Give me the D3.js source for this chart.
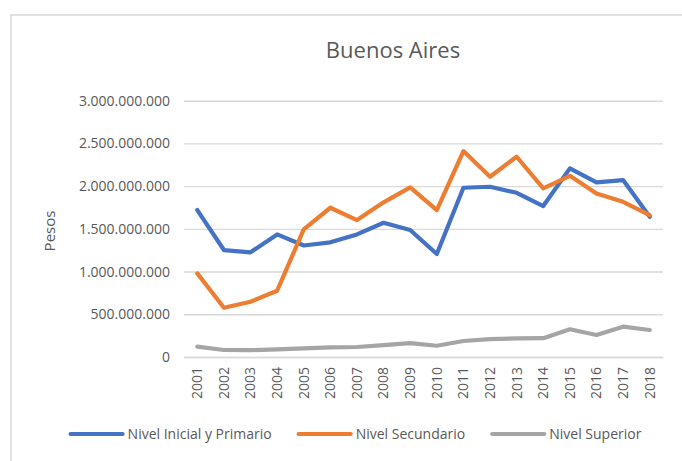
<!DOCTYPE html>
<html>
<head>
<meta charset="utf-8">
<script src="https://cdn.jsdelivr.net/npm/d3@7"></script>
<style>
  body { margin: 0; background: #fff; }
  svg { display: block; font-family: "Open Sans", sans-serif; }
</style>
</head>
<body>
<svg></svg>
<script>
const width = 682;
const height = 461;
const svg = d3.select('svg').attr('width', width).attr('height', height);

// Data
const years = ['2001','2002','2003','2004','2005','2006','2007','2008','2009',
               '2010','2011','2012','2013','2014','2015','2016','2017','2018'];
const inicialPrimario = [1720e6,1252e6,1225e6,1435e6,1305e6,1342e6,1435e6,1571e6,1486e6,
                         1205e6,1981e6,1993e6,1922e6,1767e6,2208e6,2044e6,2071e6,1642e6];
const secundario = [979e6,577e6,647e6,776e6,1494e6,1747e6,1603e6,1810e6,1985e6,
                    1720e6,2410e6,2110e6,2344e6,1974e6,2121e6,1915e6,1817e6,1661e6];
const superior = [121e6,82e6,80e6,90e6,102e6,113e6,117e6,140e6,162e6,
                  132e6,187e6,210e6,218e6,220e6,324e6,257e6,355e6,316e6];
const yTicks = [0, 500e6, 1000e6, 1500e6, 2000e6, 2500e6, 3000e6];
const seriesNames = ['Nivel Inicial y Primario', 'Nivel Secundario', 'Nivel Superior'];
const seriesColors = ['#4472C4', '#ED7D31', '#A5A5A5'];

const series = [inicialPrimario, secundario, superior].map((values, i) => ({
  name: seriesNames[i], color: seriesColors[i], values: values
}));

const textColor = '#595959';
const gridColor = '#d9d9d9';

// chart border (cropped at right and bottom like the reference)
svg.append('rect')
   .attr('x', 11).attr('y', 15)
   .attr('width', 720).attr('height', 500)
   .attr('fill', 'none')
   .attr('stroke', gridColor)
   .attr('stroke-width', 1.5);

//Setting up scales
const xScale = d3.scaleBand().domain(years).range([184, 663]);
const yScale = d3.scaleLinear().domain([0, 3000e6]).range([357, 100.7]);
const xPos = d => xScale(d) + xScale.bandwidth() / 2;

const fmt = v => d3.format(',')(v).replace(/,/g, '.');

//Grid + y axis
const yAxis = d3.axisLeft(yScale).tickValues(yTicks).tickFormat(fmt)
                .tickSize(-(663 - 184)).tickPadding(14);
const gy = svg.append('g').attr('transform', 'translate(184,0)').call(yAxis);
gy.select('.domain').remove();
gy.selectAll('.tick line').attr('stroke', gridColor).attr('stroke-width', 1.4);
gy.selectAll('.tick text').attr('fill', textColor).style('font-size', '14px')
  .attr('font-family', '"Open Sans", sans-serif');

//x axis
const xAxis = d3.axisBottom(xScale).tickSize(0).tickPadding(0);
const gx = svg.append('g').attr('transform', 'translate(0,357)').call(xAxis);
gx.select('.domain').attr('stroke', gridColor).attr('stroke-width', 1.4);
gx.selectAll('.tick text')
  .attr('fill', textColor)
  .attr('font-family', '"Open Sans", sans-serif')
  .style('font-size', '14px')
  .attr('transform', 'rotate(-90)')
  .attr('text-anchor', 'end')
  .attr('x', -10)
  .attr('y', 0)
  .attr('dy', '0.35em');

//Title and axis title
svg.append('text')
   .attr('x', 393).attr('y', 58)
   .attr('text-anchor', 'middle')
   .attr('fill', textColor)
   .style('font-size', '22px')
   .text('Buenos Aires');

svg.append('text')
   .attr('transform', 'rotate(-90)')
   .attr('x', -231).attr('y', 50)
   .attr('dy', '0.35em')
   .attr('text-anchor', 'middle')
   .attr('fill', textColor)
   .style('font-size', '15px')
   .text('Pesos');

//Lines
const line = d3.line()
               .x((d, i) => xPos(years[i]))
               .y(d => yScale(d));

svg.selectAll('.series')
   .data(series)
   .enter()
   .append('path')
     .attr('class', 'series')
     .attr('d', d => line(d.values))
     .attr('fill', 'none')
     .attr('stroke', d => d.color)
     .attr('stroke-width', 4.2)
     .attr('stroke-linejoin', 'round')
     .attr('stroke-linecap', 'round');

//Legend
const legend = svg.append('g');
const legendY = 434;
let lx = 0;
series.forEach(s => {
  const item = legend.append('g').attr('transform', `translate(${lx},0)`);
  item.append('line')
      .attr('x1', 2).attr('x2', 54)
      .attr('y1', legendY).attr('y2', legendY)
      .attr('stroke', s.color).attr('stroke-width', 4.2)
      .attr('stroke-linecap', 'round');
  const t = item.append('text')
      .attr('x', 59).attr('y', legendY).attr('dy', '0.35em')
      .attr('fill', textColor)
      .style('font-size', '14px')
      .text(s.name);
  lx += 59 + t.node().getComputedTextLength() + 25;
});
const legendWidth = lx - 25;
legend.attr('transform', `translate(${355 - legendWidth / 2},0)`);
</script>
</body>
</html>
